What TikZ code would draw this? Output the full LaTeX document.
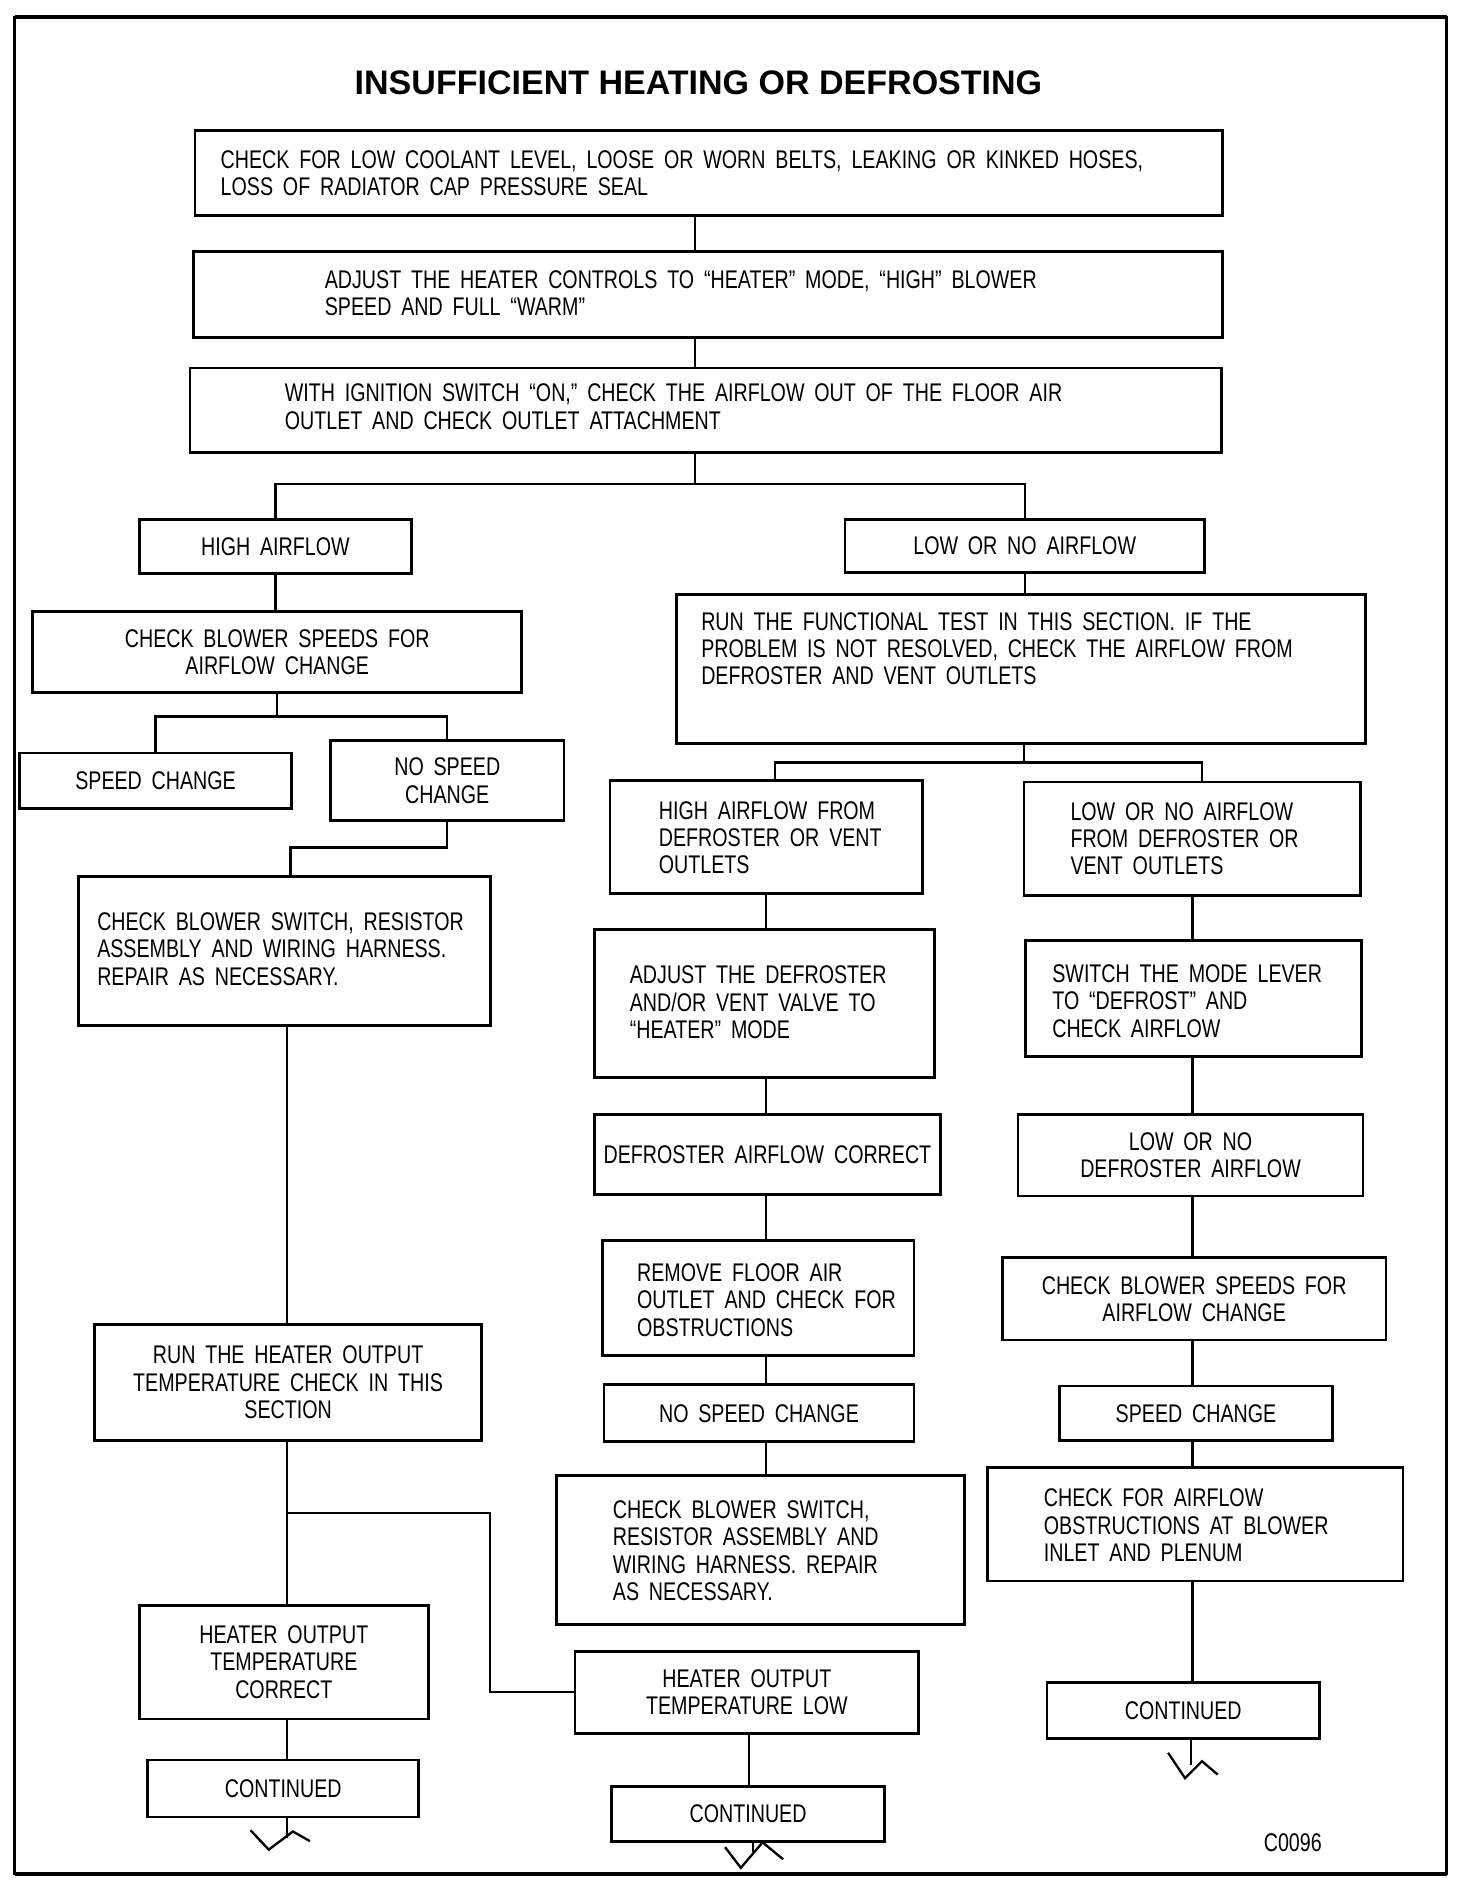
\documentclass[tikz,border=0pt]{standalone}
\usepackage{fontspec}
\setmainfont{Liberation Sans}
\newfontfamily\cond[FakeStretch=0.77,WordSpace=1.8]{Liberation Sans}
\newfontfamily\titlefont{Liberation Sans}
\newcommand\bx[6]{%
 \pgfmathsetmacro\bxcx{(#2+#4)/2}%
 \pgfmathsetmacro\bxcy{(#3+#5)/2}%
 \pgfmathsetmacro\bxw{(#4-#2)*0.02}%
 \pgfmathsetmacro\bxh{(#5-#3)*0.02}%
 \node[box, lbl, minimum width=\bxw cm, minimum height=\bxh cm] (#1) at (\bxcx,\bxcy) {#6};}
\tikzset{
 box/.style={draw, line width=1.3pt, inner sep=0pt},
 lbl/.style={font=\cond\fontsize{12}{12.8}\selectfont, align=center, inner sep=0pt},
 ltxt/.style={lbl, align=left, anchor=west},
 conn/.style={line width=1.1pt},
 zig/.style={line width=1.1pt, line join=miter},
}
\begin{document}
\begin{tikzpicture}[x=0.02cm,y=-0.02cm]
\useasboundingbox (0,0) rectangle (1215,1563);
\fill[white] (0,0) rectangle (1215,1563);
% frame
\draw[line width=1pt] (12,14) rectangle (1195,1548);
\draw[line width=2.2pt] (12,14) -- (1195,14);
\draw[line width=2.2pt] (12,1548) -- (1195,1548);
% title
\node[inner sep=0pt, font=\titlefont\bfseries\fontsize{16}{18}\selectfont] (title) at (577,68) {INSUFFICIENT HEATING OR DEFROSTING};
% top boxes
\bx{b1}{161}{108}{1010}{178}{}
\node[ltxt] (b1t) at (182,143) {CHECK FOR LOW COOLANT LEVEL, LOOSE OR WORN BELTS, LEAKING OR KINKED HOSES,\\LOSS OF RADIATOR CAP PRESSURE SEAL};
\bx{b2}{160}{208}{1010}{279}{}
\node[ltxt] (b2t) at (268,242) {ADJUST THE HEATER CONTROLS TO “HEATER” MODE, “HIGH” BLOWER\\SPEED AND FULL “WARM”};
\bx{b3}{157}{304}{1009}{374}{}
\node[ltxt] (b3t) at (235,336) {WITH IGNITION SWITCH “ON,” CHECK THE AIRFLOW OUT OF THE FLOOR AIR\\OUTLET AND CHECK OUTLET ATTACHMENT};
% left column
\bx{ha}{115}{429}{340}{474}{HIGH AIRFLOW}
\bx{cbsa}{27}{505}{431}{572}{CHECK BLOWER SPEEDS FOR\\AIRFLOW CHANGE}
\bx{sca}{16}{622}{241}{668}{SPEED CHANGE}
\bx{nsca}{273}{612}{466}{678}{NO SPEED\\CHANGE}
\bx{cbswa}{65}{724}{405}{847}{}
\node[ltxt] (cbswat) at (80,784) {CHECK BLOWER SWITCH, RESISTOR\\ASSEMBLY AND WIRING HARNESS.\\REPAIR AS NECESSARY.};
\bx{rh}{78}{1094}{398}{1190}{RUN THE HEATER OUTPUT\\TEMPERATURE CHECK IN THIS\\SECTION}
\bx{hoc}{115}{1326}{354}{1420}{HEATER OUTPUT\\TEMPERATURE\\CORRECT}
\bx{conta}{122}{1454}{346}{1501}{CONTINUED}
% middle column
\bx{lo}{698}{429}{995}{473}{LOW OR NO AIRFLOW}
\bx{ft}{559}{491}{1128}{614}{}
\node[ltxt] (ftt) at (579,536) {RUN THE FUNCTIONAL TEST IN THIS SECTION. IF THE\\PROBLEM IS NOT RESOLVED, CHECK THE AIRFLOW FROM\\DEFROSTER AND VENT OUTLETS};
\bx{haf}{504}{645}{762}{738}{}
\node[ltxt] (haft) at (544,692) {HIGH AIRFLOW FROM\\DEFROSTER OR VENT\\OUTLETS};
\bx{adj}{491}{768}{772}{890}{}
\node[ltxt] (adjt) at (520,828) {ADJUST THE DEFROSTER\\AND/OR VENT VALVE TO\\“HEATER” MODE};
\bx{dac}{491}{921}{777}{987}{DEFROSTER AIRFLOW CORRECT}
\bx{rfa}{498}{1025}{755}{1120}{}
\node[ltxt] (rfat) at (526,1074) {REMOVE FLOOR AIR\\OUTLET AND CHECK FOR\\OBSTRUCTIONS};
\bx{nscb}{499}{1144}{755}{1191}{NO SPEED CHANGE}
\bx{cbswb}{460}{1219}{797}{1342}{}
\node[ltxt] (cbswbt) at (506,1281) {CHECK BLOWER SWITCH,\\RESISTOR ASSEMBLY AND\\WIRING HARNESS. REPAIR\\AS NECESSARY.};
\bx{hol}{475}{1364}{759}{1432}{HEATER OUTPUT\\TEMPERATURE LOW}
\bx{contb}{505}{1476}{731}{1521}{CONTINUED}
% right column
\bx{lnf}{846}{646}{1124}{740}{}
\node[ltxt] (lnft) at (884,693) {LOW OR NO AIRFLOW\\FROM DEFROSTER OR\\VENT OUTLETS};
\bx{sml}{847}{777}{1125}{873}{}
\node[ltxt] (smlt) at (869,827) {SWITCH THE MODE LEVER\\TO “DEFROST” AND\\CHECK AIRFLOW};
\bx{lnd}{841}{921}{1126}{988}{LOW OR NO\\DEFROSTER AIRFLOW}
\bx{cbsb}{828}{1039}{1145}{1107}{CHECK BLOWER SPEEDS FOR\\AIRFLOW CHANGE}
\bx{scb}{875}{1145}{1101}{1190}{SPEED CHANGE}
\bx{cfa}{816}{1212}{1159}{1306}{}
\node[ltxt] (cfat) at (862,1260) {CHECK FOR AIRFLOW\\OBSTRUCTIONS AT BLOWER\\INLET AND PLENUM};
\bx{contc}{865}{1390}{1090}{1436}{CONTINUED}
\node[lbl] (code) at (1068,1522) {C0096};
% coordinates
\coordinate (xA) at (574,400);
\coordinate (xL) at (237,0);
\coordinate (j2) at (229,592);
\coordinate (j3) at (240,700);
\coordinate (j4) at (237,1250);
\coordinate (j5) at (405,1250);
\coordinate (j6) at (846,630);
\coordinate (j6a) at (640,630);
\coordinate (j6b) at (993,630);
\coordinate (xM) at (633,0);
\coordinate (xM2) at (619,0);
\coordinate (xR) at (985,0);
\coordinate (za) at (237,1518);
\coordinate (zb) at (622,1530);
\coordinate (zc) at (984,1458);
% connectors
\draw[conn] (b1.south -| xA) -- (b2.north -| xA);
\draw[conn] (b2.south -| xA) -- (b3.north -| xA);
\draw[conn] (b3.south -| xA) -- (xA);
\draw[conn] (ha.north) |- (xA) -| (lo.north);
\draw[conn] (ha.south) -- (ha.south |- cbsa.north);
\draw[conn] (cbsa.south -| j2) -- (j2);
\draw[conn] (sca.north) |- (j2) -| (nsca.north);
\draw[conn] (nsca.south) |- (j3) -- (j3 |- cbswa.north);
\draw[conn] (cbswa.south -| xL) -- (rh.north -| xL);
\draw[conn] (rh.south -| xL) -- (hoc.north -| xL);
\draw[conn] (j4) -- (j5) |- (hol.west);
\draw[conn] (hoc.south -| xL) -- (conta.north -| xL);
\draw[conn] (conta.south -| za) -- (za);
\draw[conn] (lo.south) -- (lo.south |- ft.north);
\draw[conn] (ft.south -| j6) -- (j6);
\draw[conn] (j6a |- haf.north) -- (j6a) -- (j6b) -- (j6b |- lnf.north);
\draw[conn] (haf.south -| xM) -- (adj.north -| xM);
\draw[conn] (adj.south -| xM) -- (dac.north -| xM);
\draw[conn] (dac.south -| xM) -- (rfa.north -| xM);
\draw[conn] (rfa.south -| xM) -- (nscb.north -| xM);
\draw[conn] (nscb.south -| xM) -- (cbswb.north -| xM);
\draw[conn] (hol.south -| xM2) -- (contb.north -| xM2);
\draw[conn] (contb.south -| zb) -- (zb);
\draw[conn] (lnf.south -| xR) -- (sml.north -| xR);
\draw[conn] (sml.south -| xR) -- (lnd.north -| xR);
\draw[conn] (lnd.south -| xR) -- (cbsb.north -| xR);
\draw[conn] (cbsb.south -| xR) -- (scb.north -| xR);
\draw[conn] (scb.south -| xR) -- (cfa.north -| xR);
\draw[conn] (cfa.south -| xR) -- (contc.north -| xR);
\draw[conn] (contc.south -| zc) -- (zc);
% break marks
\draw[zig] (207,1512) -- (222,1528) -- (242,1513) -- (256,1521);
\draw[zig] (599,1526) -- (612,1543) -- (630,1522) -- (647,1536);
\draw[zig] (965,1448) -- (979,1469) -- (993,1455) -- (1006,1466);
\end{tikzpicture}
\end{document}
